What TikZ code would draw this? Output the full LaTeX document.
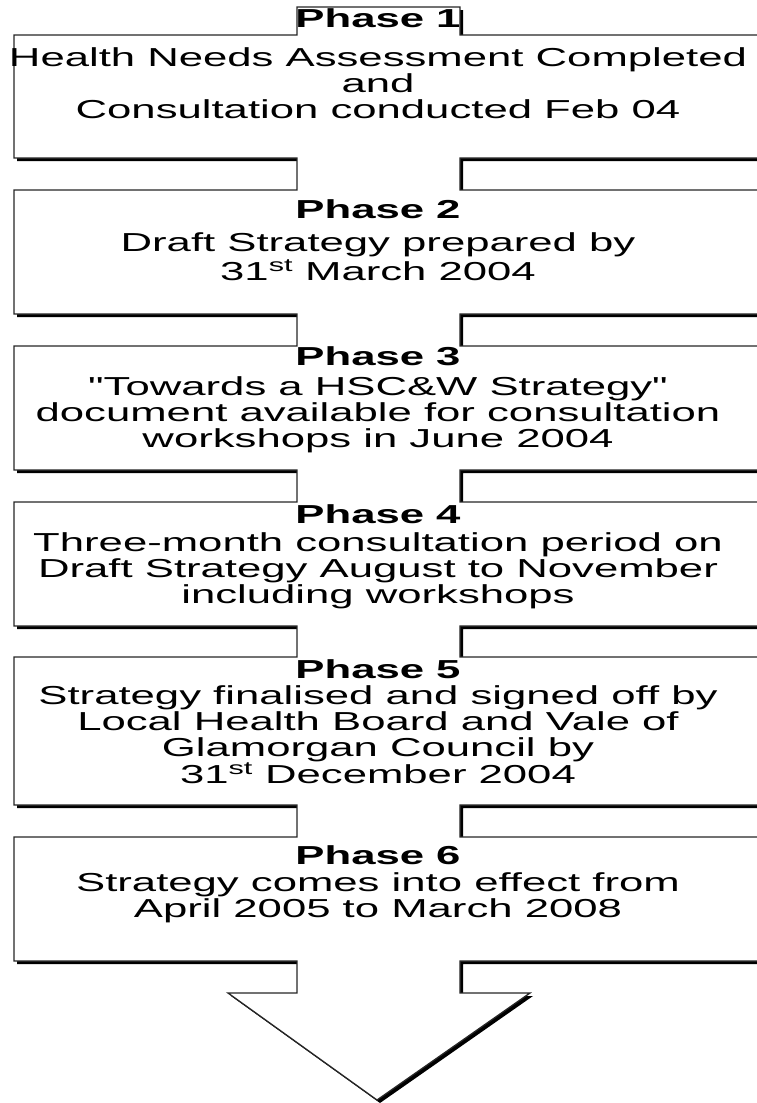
\documentclass[tikz,border=0pt]{standalone}
\usepackage{fontspec}
\setmainfont{Liberation Sans}[FakeStretch=1.68]
\newfontfamily\geradefont{Liberation Sans}[FakeStretch=1.68]
\newcommand{\gq}{{\geradefont\symbol{34}}}
\usetikzlibrary{shadows}

\begin{document}
\begin{tikzpicture}[x=1pt,y=-1pt,
  phasetext/.style={anchor=north, align=center, inner sep=0pt,
    font=\fontsize{26}{26}\selectfont},
  umriss/.style={fill=white, draw=black!85, line width=1.3pt, line join=miter,
    drop shadow={shadow xshift=3pt, shadow yshift=-3pt, opacity=1, fill=black}}]

\useasboundingbox (0,0) rectangle (757,1103);
\clip (0,0) rectangle (757,1103);

%% Pfeil mit Phasen-Kaesten %%%%%%%%%%%%%%%%%%%%%%%
\filldraw[umriss]
  (297,7) -- (460,7) -- (460,35) -- (790,35) -- (790,158) -- (460,158)
  -- (460,190) -- (790,190) -- (790,314) -- (460,314)
  -- (460,346) -- (790,346) -- (790,470) -- (460,470)
  -- (460,502) -- (790,502) -- (790,626) -- (460,626)
  -- (460,657) -- (790,657) -- (790,805) -- (460,805)
  -- (460,837) -- (790,837) -- (790,961) -- (460,961)
  -- (460,993) -- (530,993) -- (377,1100) -- (228,993) -- (297,993)
  -- (297,961) -- (14,961) -- (14,837) -- (297,837)
  -- (297,805) -- (14,805) -- (14,657) -- (297,657)
  -- (297,626) -- (14,626) -- (14,502) -- (297,502)
  -- (297,470) -- (14,470) -- (14,346) -- (297,346)
  -- (297,314) -- (14,314) -- (14,190) -- (297,190)
  -- (297,158) -- (14,158) -- (14,35) -- (297,35) -- cycle;

%% Phase 1
\node[phasetext] (phase1) at (378,8) {\textbf{Phase 1}\\[13pt]
  Health Needs Assessment Completed\\ and\\ Consultation conducted Feb 04};

%% Phase 2
\node[phasetext] (phase2) at (378,199) {\textbf{Phase 2}\\[7pt]
  Draft Strategy prepared by\\[2pt] 31\textsuperscript{st} March 2004};

%% Phase 3
\node[phasetext] (phase3) at (378,346) {\textbf{Phase 3}\\[4pt]
  \gq Towards a HSC\&W Strategy\gq\\ document available for consultation\\
  workshops in June 2004};

%% Phase 4
\node[phasetext] (phase4) at (378,504) {\textbf{Phase 4}\\[2pt]
  Three-month consultation period on\\ Draft Strategy August to November\\
  including workshops};

%% Phase 5
\node[phasetext] (phase5) at (378,659) {\textbf{Phase 5}\\
  Strategy finalised and signed off by\\ Local Health Board and Vale of\\
  Glamorgan Council by\\ 31\textsuperscript{st} December 2004};

%% Phase 6
\node[phasetext] (phase6) at (378,845) {\textbf{Phase 6}\\[1pt]
  Strategy comes into effect from\\ April 2005 to March 2008};

\end{tikzpicture}
\end{document}
